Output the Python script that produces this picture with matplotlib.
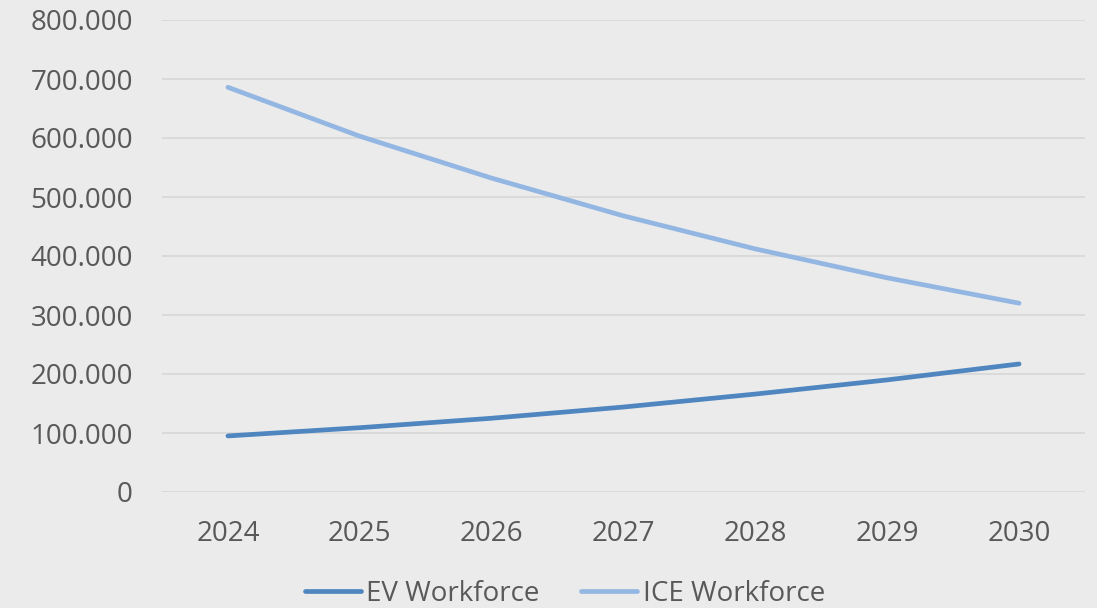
import matplotlib
matplotlib.use("Agg")
import matplotlib.pyplot as plt
from matplotlib.ticker import FuncFormatter

years = ["2024", "2025", "2026", "2027", "2028", "2029", "2030"]
ev_workforce = [95000, 109000, 125000, 144000, 166000, 190000, 217000]
ice_workforce = [686000, 603000, 532000, 468000, 412000, 363000, 320000]
y_ticks = [0, 100000, 200000, 300000, 400000, 500000, 600000, 700000, 800000]

plt.rcParams['font.family'] = ['Open Sans', 'DejaVu Sans']
bg = "#EBEBEB"
txt = "#595959"

fig = plt.figure(figsize=(10.97, 6.08), dpi=100, facecolor=bg)
ax = fig.add_axes([162/1097, 1 - 492/608, (1085-162)/1097, (492-20)/608])
ax.set_facecolor(bg)

x = list(range(len(years)))
ax.plot(x, ev_workforce, color="#4F86BF", lw=3.4, solid_capstyle="round", label="EV Workforce")
ax.plot(x, ice_workforce, color="#93B7E2", lw=3.4, solid_capstyle="round", label="ICE Workforce")

ax.set_xlim(-0.5, 6.5)
ax.set_ylim(0, 800000)
ax.set_xticks(x)
ax.set_xticklabels(years)
ax.set_yticks(y_ticks)

def fmt(v, pos):
    if v == 0:
        return "0"
    return f"{int(v/1000)}.000"
ax.yaxis.set_major_formatter(FuncFormatter(fmt))

ax.grid(axis="y", color="#D9D9D9", lw=1.3)
ax.set_axisbelow(True)
for s in ax.spines.values():
    s.set_visible(False)
ax.tick_params(axis="both", length=0, labelsize=20, labelcolor=txt)
ax.tick_params(axis="y", pad=21)
ax.tick_params(axis="x", pad=20)

leg = fig.legend(loc="center", bbox_to_anchor=(565/1097, 1 - 594/608), ncol=2, frameon=False,
                 fontsize=20, labelcolor=txt, handlelength=2.0, handletextpad=0.2, columnspacing=1.5)

fig.savefig("out.png", dpi=100, facecolor=bg)
